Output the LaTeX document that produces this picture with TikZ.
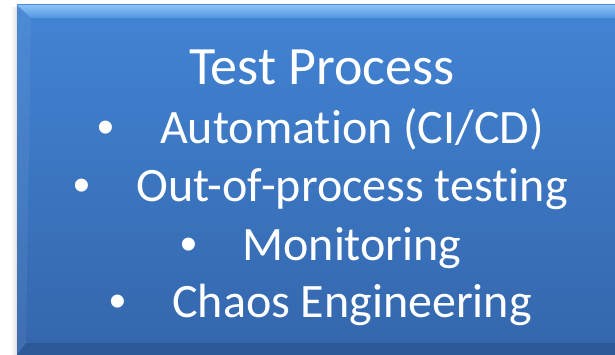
\documentclass[tikz,border=0pt]{standalone}
\usepackage{fontspec}
\setmainfont[RawFeature=-liga]{Carlito}
\newfontfamily\bulletfont{Liberation Sans}
\definecolor{boxtop}{RGB}{66,132,212}
\definecolor{boxbot}{RGB}{52,102,172}
\definecolor{beveltop}{RGB}{140,192,245}
\definecolor{bevelbot}{RGB}{80,150,225}
\tikzset{
  titletext/.style={inner sep=0pt, anchor=base, text=white, font=\fontsize{54}{54}\selectfont},
  itemtext/.style={inner sep=0pt, anchor=base, text=white, font=\fontsize{48}{48}\selectfont},
}
\newcommand{\itembullet}{\makebox[0pt][c]{\bulletfont\textbullet}\hspace{54pt}}
\begin{document}
\begin{tikzpicture}[x=1pt,y=-1pt]
\useasboundingbox (0,0) rectangle (615,355);
% shadow on the left
\fill[black,opacity=0.03] (12,7) rectangle (17,355);
\fill[black,opacity=0.04] (14,7) rectangle (17,355);
\fill[black,opacity=0.05] (16,6) rectangle (17,355);
% main box
\shade[top color=boxtop, bottom color=boxbot] (17,5) rectangle (615,355);
% top bevel
\shade[top color=beveltop, bottom color=bevelbot] (17,5) -- (615,5) -- (615,18) -- (31,18) -- cycle;
% left bevel
\fill[white,opacity=0.06] (17,5) -- (31,18) -- (26,343) -- (17,355) -- cycle;
% bottom bevel
\fill[black,opacity=0.12] (17,355) -- (615,355) -- (615,343) -- (26,343) -- cycle;
% texts
\node[titletext] (title) at (322,85) {Test Process};
\node[itemtext] (item1) at (325,144) {\itembullet Automation (CI/CD)};
\node[itemtext] (item2) at (325,202) {\itembullet Out-of-process testing};
\node[itemtext] (item3) at (325,260) {\itembullet Monitoring};
\node[itemtext] (item4) at (325,317) {\itembullet Chaos Engineering};
\end{tikzpicture}
\end{document}
